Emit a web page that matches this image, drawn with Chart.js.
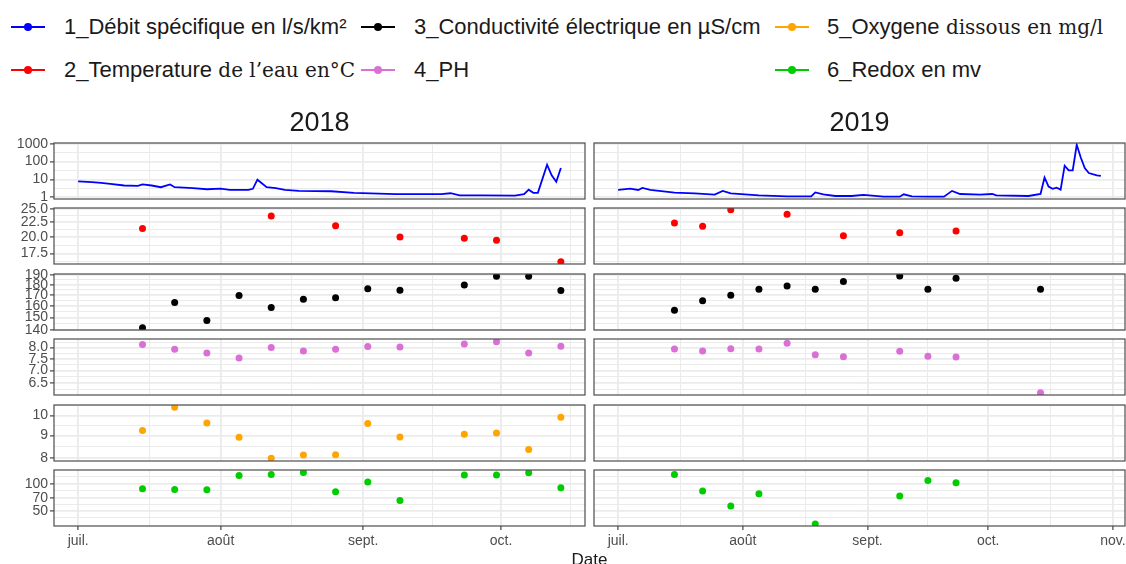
<!DOCTYPE html>
<html>
<head>
<meta charset="utf-8">
<script src="https://cdn.jsdelivr.net/npm/chart.js@4.4.1/dist/chart.umd.min.js"></script>
<style>
  body { margin: 0; width: 1126px; height: 564px; overflow: hidden; position: relative; background: #fff;
         font-family: "Liberation Sans", Arial, sans-serif; color: #1a1a1a; }
  .abs { position: absolute; white-space: nowrap; }
  .lbl { font-size: 22px; line-height: 26px; transform: translateY(-50%); }
  .serif { font-family: "DejaVu Serif", serif; font-size: 20px; }
  .key-line { height: 2px; width: 34px; transform: translateY(-50%); }
  .key-dot { width: 8px; height: 8px; border-radius: 50%; transform: translate(-50%, -50%); }
  .strip { font-size: 27px; line-height: 32px; text-align: center; transform: translateY(-50%); }
  .axis-title { font-size: 17px; line-height: 20px; transform: translate(-50%, -50%); }
</style>
</head>
<body>
<script>
// ---------- data ----------
const years = ["2018", "2019"];
const seriesLabels = [
	["1_Débit spécifique en l/s/km²", ""],
	["2_Temperature", " de l’eau en°C"],
	["3_Conductivité électrique en µS/cm", ""],
	["4_PH", ""],
	["5_Oxygene", " dissous en mg/l"],
	["6_Redox en mv", ""],
];
const seriesColors = ["#0000ff", "#ff0000", "#000000", "#da70d6", "#ffa500", "#00cd00"];

const monthDates = ["07-01", "08-01", "09-01", "10-01", "11-01"];
const monthLabels = ["juil.", "août", "sept.", "oct.", "nov."];

// daily flow (l/s/km²)
const flowDates2018 = ["07-01", "07-04", "07-06", "07-08", "07-11", "07-14", "07-15", "07-17", "07-19", "07-21",
	"07-22", "07-26", "07-29", "08-01", "08-03", "08-07", "08-08", "08-09", "08-11", "08-13", "08-15", "08-18",
	"08-25", "08-30", "09-08", "09-18", "09-20", "09-22", "09-27", "10-04", "10-06", "10-07", "10-08", "10-09",
	"10-11", "10-12", "10-13", "10-14"];
const flow2018 = [7.8, 7.2, 6.5, 5.7, 4.6, 4.4, 5.3, 4.6, 3.7, 5.3, 3.7, 3.3, 2.85, 3.1, 2.6, 2.6, 3.0, 9.7, 3.7,
	3.3, 2.6, 2.3, 2.2, 1.8, 1.5, 1.5, 1.7, 1.3, 1.3, 1.25, 1.5, 2.7, 1.8, 1.8, 67, 17, 7.5, 44];

const flowDates2019 = ["07-01", "07-04", "07-06", "07-07", "07-09", "07-15", "07-20", "07-25", "07-27", "07-29",
	"08-05", "08-12", "08-18", "08-19", "08-21", "08-24", "08-28", "08-31", "09-05", "09-09", "09-10", "09-12",
	"09-16", "09-20", "09-22", "09-24", "09-29", "10-02", "10-03", "10-11", "10-14", "10-15", "10-16", "10-17",
	"10-18", "10-19", "10-20", "10-21", "10-22", "10-23", "10-24", "10-25", "10-26", "10-28", "10-29"];
const flow2019 = [2.6, 3.1, 2.6, 3.4, 2.6, 1.84, 1.68, 1.42, 2.3, 1.68, 1.3, 1.14, 1.14, 1.9, 1.48, 1.19, 1.19,
	1.36, 1.09, 1.09, 1.48, 1.14, 1.09, 1.09, 2.3, 1.54, 1.42, 1.54, 1.3, 1.19, 1.54, 13, 4.0, 3.0, 3.5, 2.7, 59,
	32, 32, 870, 170, 44, 23, 17, 16];

// weekly samples
const sampleDates2018 = ["07-15", "07-22", "07-29", "08-05", "08-12", "08-19", "08-26", "09-02", "09-09",
	"09-23", "09-30", "10-07", "10-14"];
const temp2018 = [21.4, null, null, null, 23.7, null, 21.9, null, 20.0, 19.8, 19.5, null, 16.4];
const cond2018 = [141.6, 163.1, 147.5, 169.6, 158.6, 166.1, 167.4, 176.1, 174.7, 179.7, 188.7, 188.7, 174.4];
const ph2018 = [8.14, 7.92, 7.75, 7.53, 8.0, 7.84, 7.92, 8.05, 8.03, 8.17, 8.28, 7.75, 8.06];
const oxygen2018 = [9.25, 10.44, 9.62, 8.92, 7.99, 8.13, 8.14, 9.59, 8.93, 9.06, 9.13, 8.37, 9.91];
const redox2018 = [88.1, 86.5, 85.9, 123.4, 126.6, 133.2, 81.6, 104.4, 65.4, 124.7, 124.7, 132.2, 90.3];

const sampleDates2019 = ["07-15", "07-22", "07-29", "08-05", "08-12", "08-19", "08-26", "09-09", "09-16",
	"09-23", "10-14"];
const temp2019 = [22.4, 21.8, 24.9, null, 24.0, null, 20.2, 20.7, null, 21.0, null];
const cond2019 = [156.2, 164.7, 169.9, 175.7, 178.7, 175.7, 183.4, 189.0, 175.7, 186.8, 175.7];
const ph2019 = [7.94, 7.84, 7.95, 7.94, 8.21, 7.67, 7.58, 7.83, 7.61, 7.57, 6.15];
const oxygen2019 = [null, null, null, null, null, null, null, null, null, null, null];
const redox2019 = [126.6, 83.1, 57.2, 77.6, null, 36.2, null, 73.2, 108.7, 102.6, null];

const yBreaks = [[1, 10, 100, 1000], [17.5, 20, 22.5, 25], [140, 150, 160, 170, 180, 190],
	[6.5, 7, 7.5, 8], [8, 9, 10], [50, 70, 100]];
const yBreakLabels = [["1", "10", "100", "1000"], ["17.5", "20.0", "22.5", "25.0"],
	["140", "150", "160", "170", "180", "190"], ["6.5", "7.0", "7.5", "8.0"], ["8", "9", "10"],
	["50", "70", "100"]];

// ---------- layout ----------
const yRange = [[0.81, 1096], [16.09, 25.26], [139.9, 191.2], [6.07, 8.41], [7.876, 10.57], [34.4, 141.6]];
const xRange = [[-5.25, 110.25], [-6, 126]]; // days after 1 July
const panelLeft = [54, 594];
const panelW = 531;
const panelTop = [143, 208, 274, 339, 405, 470];
const panelH = 56;
const PAD = 8;
const Y_AXIS_W = 54;
const X_AXIS_H = 30;
const FONT = "'Liberation Sans', Arial, sans-serif";

const MONTH_START = { "07": 0, "08": 31, "09": 62, "10": 92, "11": 123 };
function dayOf(md) {
	const [m, d] = md.split("-");
	return MONTH_START[m] + Number(d) - 1;
}

function points(dates, values) {
	return dates.map((d, i) => ({ x: dayOf(d), y: values[i] })).filter((p) => p.y != null);
}

const rows = [
	[{ pts: points(flowDates2018, flow2018), line: true }, { pts: points(flowDates2019, flow2019), line: true }],
	[{ pts: points(sampleDates2018, temp2018) }, { pts: points(sampleDates2019, temp2019) }],
	[{ pts: points(sampleDates2018, cond2018) }, { pts: points(sampleDates2019, cond2019) }],
	[{ pts: points(sampleDates2018, ph2018) }, { pts: points(sampleDates2019, ph2019) }],
	[{ pts: points(sampleDates2018, oxygen2018) }, { pts: points(sampleDates2019, oxygen2019) }],
	[{ pts: points(sampleDates2018, redox2018) }, { pts: points(sampleDates2019, redox2019) }],
];

// minor breaks halfway between majors (in log space for y), like ggplot
function minorBreaks(majors, lo, hi, log) {
	const t = log ? majors.map(Math.log10) : majors.slice();
	const n = t.length;
	const ext = [2 * t[0] - t[1], ...t, 2 * t[n - 1] - t[n - 2]];
	const out = [];
	for (let i = 0; i < ext.length - 1; i++) {
		const m = (ext[i] + ext[i + 1]) / 2;
		const v = log ? Math.pow(10, m) : m;
		if (v > lo && v < hi) out.push(v);
	}
	return out;
}

const panelBorder = {
	id: "panelBorder",
	afterDraw(chart) {
		const a = chart.chartArea;
		const c = chart.ctx;
		c.save();
		c.strokeStyle = "#4d4d4d";
		c.lineWidth = 1.2;
		c.strokeRect(a.left, a.top, a.right - a.left, a.bottom - a.top);
		c.restore();
	},
};

function gridOpts(show) {
	return {
		color: "#ebebeb",
		lineWidth: (ctx) => (ctx.tick && ctx.tick.isMinor ? 1 : 1.8),
		drawTicks: show,
		tickLength: 4,
		tickWidth: 1.1,
		tickColor: (ctx) => (ctx.tick && ctx.tick.isMinor ? "rgba(0,0,0,0)" : "#333333"),
	};
}

function makePanel(r, c) {
	const showY = c === 0;
	const showX = r === 5;
	const yw = showY ? Y_AXIS_W : 0;
	const xh = showX ? X_AXIS_H : 0;
	const w = panelW + 2 * PAD + yw;
	const h = panelH + 2 * PAD + xh;

	const canvas = document.createElement("canvas");
	canvas.width = w;
	canvas.height = h;
	canvas.className = "abs";
	canvas.style.left = panelLeft[c] - PAD - yw + "px";
	canvas.style.top = panelTop[r] - PAD + "px";
	canvas.style.width = w + "px";
	canvas.style.height = h + "px";
	document.body.appendChild(canvas);

	const [xMin, xMax] = xRange[c];
	const xMajorVals = monthDates.map(dayOf);
	const xMajors = xMajorVals
		.map((v, i) => ({ value: v, text: monthLabels[i] }))
		.filter((t) => t.value >= xMin && t.value <= xMax);
	const xMinors = minorBreaks(xMajors.map((t) => t.value), xMin, xMax, false)
		.map((v) => ({ value: v, isMinor: true, text: "" }));

	const [yMin, yMax] = yRange[r];
	const yMajors = yBreaks[r].map((v, i) => ({ value: v, text: yBreakLabels[r][i] }));
	const yMinors = minorBreaks(yBreaks[r], yMin, yMax, true).map((v) => ({ value: v, isMinor: true, text: "" }));

	const cell = rows[r][c];
	const dataset = cell.line
		? { data: cell.pts, showLine: true, borderColor: seriesColors[r], borderWidth: 1.8, pointRadius: 0, tension: 0 }
		: { data: cell.pts, pointRadius: 3.5, backgroundColor: seriesColors[r], borderWidth: 0 };

	new Chart(canvas, {
		type: "scatter",
		data: { datasets: [dataset] },
		options: {
			responsive: false,
			animation: false,
			devicePixelRatio: 1,
			events: [],
			layout: { padding: PAD },
			plugins: { legend: { display: false }, tooltip: { enabled: false } },
			scales: {
				x: {
					type: "linear",
					min: xMin,
					max: xMax,
					bounds: "data",
					afterBuildTicks: (s) => { s.ticks = [...xMinors, ...xMajors]; },
					afterFit: (s) => { s.height = xh; s.paddingLeft = 0; s.paddingRight = 0; },
					ticks: {
						display: showX,
						autoSkip: false,
						maxRotation: 0,
						padding: 3,
						color: "#4d4d4d",
						font: { family: FONT, size: 14 },
						callback: (v, i, ticks) => ticks[i].text,
					},
					grid: gridOpts(showX),
					border: { display: false },
				},
				y: {
					type: "logarithmic",
					min: yMin,
					max: yMax,
					bounds: "data",
					afterBuildTicks: (s) => { s.ticks = [...yMinors, ...yMajors]; },
					afterFit: (s) => { s.width = yw; s.paddingTop = 0; s.paddingBottom = 0; },
					ticks: {
						display: showY,
						autoSkip: false,
						padding: 2,
						color: "#4d4d4d",
						font: { family: FONT, size: 14 },
						major: { enabled: false },
						callback: (v, i, ticks) => ticks[i].text,
					},
					grid: gridOpts(showY),
					border: { display: false },
				},
			},
		},
		plugins: [panelBorder],
	});
}

for (let r = 0; r < 6; r++) {
	for (let c = 0; c < 2; c++) makePanel(r, c);
}

// ---------- legend, strips, axis title ----------
const legendCols = [{ key: 11, text: 64 }, { key: 361, text: 414 }, { key: 775, text: 827 }];
const legendRows = [27, 70];

function addEl(cls, styles, html) {
	const el = document.createElement("div");
	el.className = "abs " + cls;
	Object.assign(el.style, styles);
	if (html != null) el.innerHTML = html;
	document.body.appendChild(el);
	return el;
}

seriesLabels.forEach((parts, i) => {
	const col = legendCols[Math.floor(i / 2)];
	const y = legendRows[i % 2];
	addEl("key-line", { left: col.key + "px", top: y + "px", background: seriesColors[i] });
	addEl("key-dot", { left: col.key + 17 + "px", top: y + "px", background: seriesColors[i] });
	const el = addEl("lbl", { left: col.text + "px", top: y + "px" });
	el.appendChild(document.createTextNode(parts[0]));
	if (parts[1]) {
		const s = document.createElement("span");
		s.className = "serif";
		s.textContent = parts[1];
		el.appendChild(s);
	}
});

years.forEach((yr, c) => {
	const el = addEl("strip", { left: panelLeft[c] + "px", width: panelW + "px", top: "122px" });
	el.textContent = yr;
});

addEl("axis-title", { left: (panelLeft[0] + panelLeft[1] + panelW) / 2 + "px", top: "560px" }).textContent = "Date";
</script>
</body>
</html>
